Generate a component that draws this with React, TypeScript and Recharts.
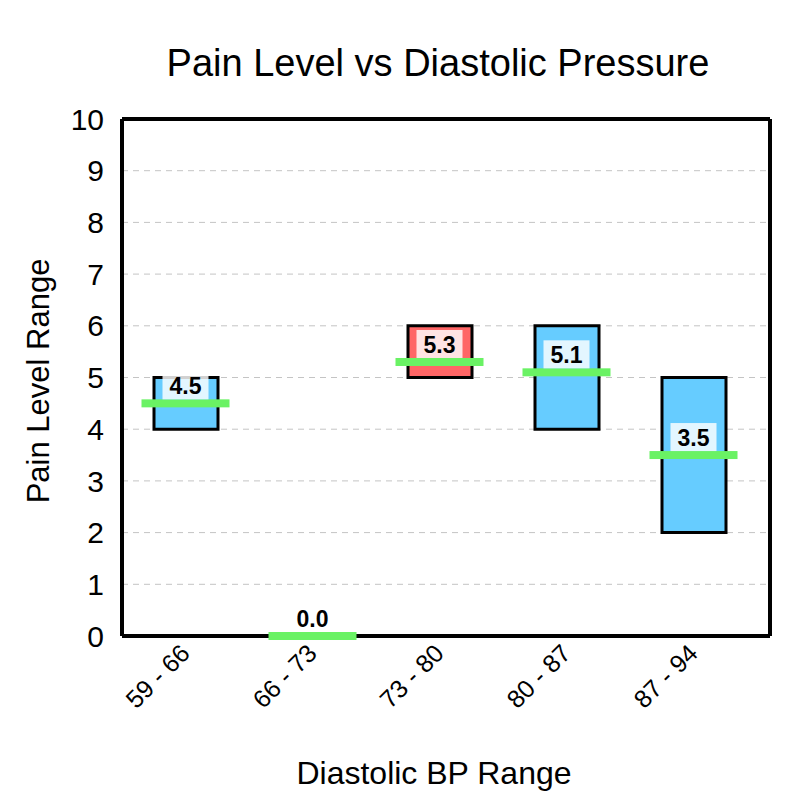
import React from "react";
import {
  Bar,
  CartesianGrid,
  Cell,
  ComposedChart,
  Scatter,
  XAxis,
  YAxis,
} from "recharts";

const ranges = ["59 - 66", "66 - 73", "73 - 80", "80 - 87", "87 - 94"];
const lows = [4, 0, 5, 4, 2];
const highs = [5, 0, 6, 6, 5];
const means = [4.5, 0.0, 5.3, 5.1, 3.5];
const highlight = [false, false, true, false, false];
const yTicks = [0, 1, 2, 3, 4, 5, 6, 7, 8, 9, 10];

const data = ranges.map((name, i) => ({
  name,
  span: [lows[i], highs[i]],
  mean: means[i],
}));

const FONT = "'Liberation Sans', Arial, sans-serif";

const MeanMarker = (props: any) => {
  const { cx, cy, payload } = props;
  if (cx == null || cy == null) return null;
  return (
    <g>
      <rect x={cx - 44} y={cy - 4} width={88} height={8} fill="#6AF264" />
      {payload.mean > 0 && (
        <rect
          x={cx - 23}
          y={cy - 32}
          width={46}
          height={28}
          fill="#ffffff"
          fillOpacity={0.82}
        />
      )}
      <text
        x={cx}
        y={cy - 9}
        textAnchor="middle"
        fontFamily={FONT}
        fontWeight="bold"
        fontSize={23}
        fill="#000"
      >
        {payload.mean.toFixed(1)}
      </text>
    </g>
  );
};

const XTick = (props: any) => {
  const { x, y, payload } = props;
  return (
    <g transform={`translate(${x + 3},${y + 8})`}>
      <text
        textAnchor="end"
        transform="rotate(-45)"
        dy={4}
        fontFamily={FONT}
        fontSize={25}
        fill="#000"
      >
        {payload.value}
      </text>
    </g>
  );
};

export default function App() {
  return (
    <div style={{ margin: -8, position: "relative", width: 800, height: 800, background: "#fff" }}>
      <ComposedChart
        width={800}
        height={800}
        data={data}
        margin={{ top: 118, right: 29, bottom: 104, left: 62 }}
      >
        <CartesianGrid
          xAxisId="bottom"
          yAxisId="left"
          vertical={false}
          stroke="#c4c4c4"
          strokeDasharray="6 5"
        />
        <XAxis
          dataKey="name"
          xAxisId="bottom"
          height={60}
          axisLine={{ stroke: "#000", strokeWidth: 4 }}
          tickLine={false}
          tick={<XTick />}
          interval={0}
          padding={{ left: 0, right: 13 }}
        />
        <XAxis
          dataKey="name"
          xAxisId="top"
          orientation="top"
          height={1}
          axisLine={{ stroke: "#000", strokeWidth: 4 }}
          tickLine={false}
          tick={false}
        />
        <YAxis
          yAxisId="left"
          domain={[0, 10]}
          ticks={yTicks}
          width={60}
          axisLine={{ stroke: "#000", strokeWidth: 4 }}
          tickLine={false}
          tickMargin={12}
          tick={{ fontSize: 30, fill: "#000", fontFamily: FONT }}
          label={{
            content: () => (
              <text
                x={49}
                y={381}
                transform="rotate(-90 49 381)"
                textAnchor="middle"
                fontFamily={FONT}
                fontSize={31}
                fill="#000"
              >
                Pain Level Range
              </text>
            ),
          }}
        />
        <YAxis
          yAxisId="right"
          orientation="right"
          domain={[0, 10]}
          width={1}
          axisLine={{ stroke: "#000", strokeWidth: 4 }}
          tickLine={false}
          tick={false}
        />
        <Bar
          dataKey="span"
          xAxisId="bottom"
          yAxisId="left"
          barSize={64}
          stroke="#000"
          strokeWidth={3}
          isAnimationActive={false}
        >
          {data.map((d, i) => (
            <Cell
              key={d.name}
              fill={highlight[i] ? "#FF6666" : "#66CCFF"}
              strokeWidth={highs[i] - lows[i] > 0 ? 3 : 0}
            />
          ))}
        </Bar>
        <Scatter
          dataKey="mean"
          xAxisId="bottom"
          yAxisId="left"
          shape={<MeanMarker />}
          isAnimationActive={false}
        />
      </ComposedChart>
      <div
        style={{
          position: "absolute",
          top: 42,
          left: 0,
          width: 876,
          textAlign: "center",
          fontFamily: FONT,
          fontSize: 38,
          color: "#000",
        }}
      >
        Pain Level vs Diastolic Pressure
      </div>
      <div
        style={{
          position: "absolute",
          top: 755,
          left: 0,
          width: 868,
          textAlign: "center",
          fontFamily: FONT,
          fontSize: 32,
          color: "#000",
        }}
      >
        Diastolic BP Range
      </div>
    </div>
  );
}
